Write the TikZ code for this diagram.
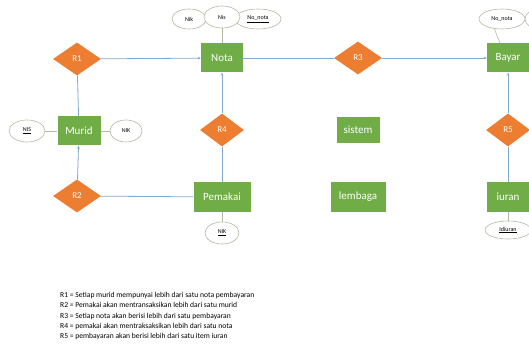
\documentclass[tikz,border=0pt]{standalone}
\usepackage{fontspec}
\setmainfont{Carlito}
\usetikzlibrary{shapes.geometric,arrows.meta}
\definecolor{entgreen}{HTML}{70AD47}
\definecolor{relorange}{HTML}{ED7D31}
\definecolor{linkblue}{HTML}{7FA9D2}
\definecolor{attrgray}{HTML}{B8B8A0}
\tikzset{
  entity/.style={draw=none, fill=entgreen, text=white, font=\fontsize{11}{12}\selectfont, minimum height=29pt, inner xsep=6pt},
  relation/.style={diamond, fill=relorange, text=white, font=\fontsize{9}{10}\selectfont, minimum width=48pt, minimum height=33pt, inner sep=0pt},
  attr/.style={ellipse, draw=attrgray, fill=white, line width=0.6pt, font=\fontsize{6}{7}\selectfont, inner sep=0pt},
  link/.style={draw=linkblue, line width=0.8pt},
  arr/.style={link, -{Stealth[length=3pt,width=2.6pt]}},
  alink/.style={draw=attrgray, line width=0.6pt},
}
\begin{document}
\begin{tikzpicture}[x=1pt,y=-1pt]
\clip (0,0) rectangle (529,347);
\fill[white] (0,0) rectangle (529,347);
% entities
\node[entity, minimum width=42pt] (nota) at (222,58) {Nota};
\node[entity, minimum width=42pt] (bayar) at (508,58) {Bayar};
\node[entity, minimum width=43pt] (murid) at (79,131) {Murid};
\node[entity, minimum width=43pt, minimum height=26pt] (sistem) at (358,130) {sistem};
\node[entity, minimum width=57pt] (pemakai) at (222,197) {Pemakai};
\node[entity, minimum width=55pt] (lembaga) at (358,197) {lembaga};
\node[entity, minimum width=42pt] (iuran) at (508,197) {iuran};
% relations
\node[relation] (r1) at (77,59) {R1};
\node[relation] (r3) at (358,58) {R3};
\node[relation, minimum width=44pt] (r4) at (222,130) {R4};
\node[relation, minimum width=44pt] (r5) at (508,130) {R5};
\node[relation] (r2) at (77,196) {R2};
% links
\draw[arr] (r1) -- (nota);
\draw[link] (r1) -- (murid);
\draw[arr] (r2) -- (murid);
\draw[link] (r2) -- (pemakai);
\draw[link] (pemakai) -- (r4);
\draw[arr] (r4) -- (nota);
\draw[link] (nota) -- (r3);
\draw[arr] (r3) -- (bayar);
\draw[arr] (r5) -- (bayar);
\draw[link] (r5) -- (iuran);
% attributes
\coordinate (bayarattr) at (500,43);
\draw[alink] (222,27) -- (nota.north);
\draw[alink] (494,28) -- (bayarattr);
\node[attr, minimum width=34pt, minimum height=20pt] (nik1) at (189,19) {Nik};
\node[attr, minimum width=46pt, minimum height=20pt] (nonota1) at (258,19) {\underline{No\_nota}};
\node[attr, minimum width=36pt, minimum height=22pt] (nis1) at (222,17) {Nis};
\node[attr, minimum width=46pt, minimum height=20pt] (nonota2) at (502,19) {No\_nota};
\node[attr, minimum width=30pt, minimum height=20pt] (extra) at (540,19) {};
\node[attr, minimum width=36pt, minimum height=22pt] (nis2) at (27,131) {\underline{NIS}};
\node[attr, minimum width=32pt, minimum height=22pt] (nik2) at (126,131) {NIK};
\node[attr, minimum width=34pt, minimum height=22pt] (nik3) at (222,233) {\underline{NIK}};
\node[attr, minimum width=46pt, minimum height=18pt] (idiuran) at (508,230) {\underline{Idiuran}};
\draw[alink] (nis2) -- (murid);
\draw[alink] (nik2) -- (murid);
\draw[alink] (nik3) -- (pemakai);
\draw[alink] (idiuran) -- (iuran);
% legend
\node[anchor=north west, align=left, inner sep=0pt, font=\fontsize{7.6}{10.3}\selectfont] (legend) at (60,292) {%
R1 = Setiap murid mempunyai lebih dari satu nota pembayaran\\
R2 = Pemakai akan mentransaksikan lebih dari satu murid\\
R3 = Setiap nota akan berisi lebih dari satu pembayaran\\
R4 = pemakai akan mentraksaksikan lebih dari satu nota\\
R5 = pembayaran akan berisi lebih dari satu item iuran};
\end{tikzpicture}
\end{document}
